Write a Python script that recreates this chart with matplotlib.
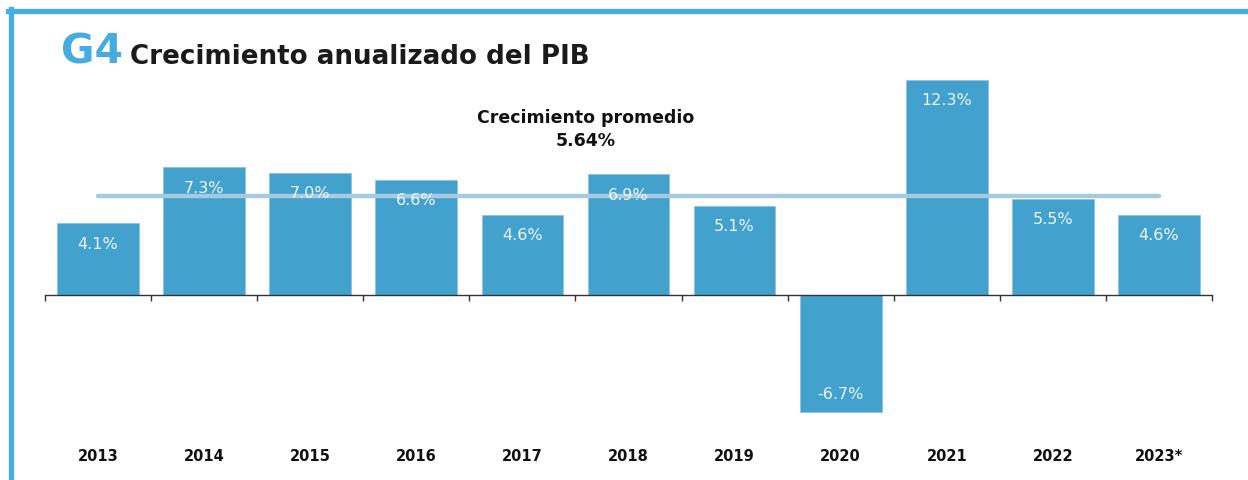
import matplotlib
matplotlib.use("Agg")
import matplotlib.pyplot as plt
from matplotlib.lines import Line2D
from matplotlib.transforms import blended_transform_factory

years = ["2013", "2014", "2015", "2016", "2017", "2018", "2019", "2020", "2021", "2022", "2023*"]
growth = [4.1, 7.3, 7.0, 6.6, 4.6, 6.9, 5.1, -6.7, 12.3, 5.5, 4.6]
labels = ["4.1%", "7.3%", "7.0%", "6.6%", "4.6%", "6.9%", "5.1%", "-6.7%", "12.3%", "5.5%", "4.6%"]
average = 5.64
avg_title = "Crecimiento promedio"
avg_label = "5.64%"
chart_id = "G4"
title = "Crecimiento anualizado del PIB"

BAR = "#43A2CD"
AVG = "#A6CBE0"
FRAME = "#45AEE2"
FONT = "DejaVu Sans"

W, H = 1248, 481
fig = plt.figure(figsize=(W / 100, H / 100), dpi=100)
fig.patch.set_facecolor("white")

# frame decoration
fig.add_artist(Line2D([8 / W, 1.0], [1 - 12 / H, 1 - 12 / H], color=FRAME, lw=3.8,
                      transform=fig.transFigure))
fig.add_artist(Line2D([10.5 / W, 10.5 / W], [0, 1 - 10 / H], color=FRAME, lw=3.8,
                      transform=fig.transFigure))

# titles
fig.text(61 / W, 1 - 53 / H, chart_id, color="#45ABE0", fontsize=29.5, fontweight="bold",
         family=FONT, va="center", ha="left")
fig.text(130 / W, 1 - 57 / H, title, color="#1a1a1a", fontsize=18.8, fontweight="bold",
         family=FONT, va="center", ha="left")

ax = fig.add_axes([45 / W, (H - 440) / H, 1167 / W, 380 / H])
ax.set_xlim(-0.5, len(years) - 0.5)
ax.set_ylim(-144 / 17.5, 236 / 17.5)

x = list(range(len(years)))
bars = ax.bar(x, growth, width=0.77, color=BAR, edgecolor="#8CC6E2", linewidth=0.6, zorder=2)

# average line
ax.plot([x[0], x[-1]], [average, average], color=AVG, lw=3.2, solid_capstyle="round", zorder=3)
ax.text(4.6, average + 3.87, avg_title + "\n" + avg_label, ha="center", va="center",
        fontsize=12.5, fontweight="bold", family=FONT, color="#111111",
        linespacing=1.35)

# value labels
for xi, v, lab in zip(x, growth, labels):
    off = -14.5 if v >= 0 else 13.5
    ax.annotate(lab, (xi, v), xytext=(0, off), textcoords="offset points",
                ha="center", va="center", color="#EEF6FB", fontsize=11.5,
                family=FONT, zorder=4)

# axis
for s in ["top", "right", "left"]:
    ax.spines[s].set_visible(False)
ax.spines["bottom"].set_position(("data", 0))
ax.spines["bottom"].set_color("#333333")
ax.spines["bottom"].set_linewidth(1.0)
ax.spines["bottom"].set_zorder(5)
ax.set_yticks([])
ax.set_xticks([i - 0.5 for i in range(len(years) + 1)])
ax.set_xticklabels([])
ax.tick_params(axis="x", direction="out", length=4, width=1.0, color="#333333")

tr = blended_transform_factory(ax.transData, fig.transFigure)
for xi, y in zip(x, years):
    ax.text(xi, (H - 457) / H, y, transform=tr, ha="center", va="center",
            fontsize=10.5, fontweight="bold", family=FONT, color="#111111")

fig.savefig("out.png", dpi=100)
